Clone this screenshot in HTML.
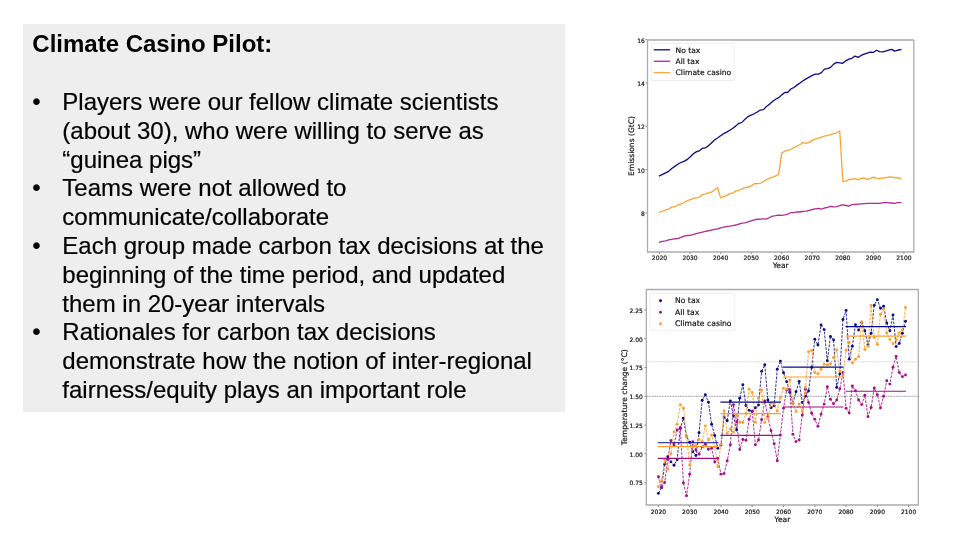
<!DOCTYPE html>
<html lang="en"><head><meta charset="utf-8"><title>Climate Casino Pilot</title>
<style>
html,body{margin:0;padding:0;background:#fff}
body{width:960px;height:540px;position:relative;overflow:hidden;font-family:"Liberation Sans",sans-serif;color:#000}
#box{position:absolute;left:23px;top:24px;width:542px;height:387.6px;background:#eeeeee}
.ln{position:absolute;white-space:nowrap;font-size:24px;line-height:28px;height:28px;-webkit-text-stroke:0.2px #000}
</style></head><body>
<div id="box"></div>
<div class="ln" style="top:30.00px;left:32.3px"><b style="-webkit-text-stroke:0">Climate Casino Pilot:</b></div>
<div class="ln" style="top:88.00px;left:32.3px">•</div>
<div class="ln" style="top:88.00px;left:62.3px">Players were our fellow climate scientists</div>
<div class="ln" style="top:117.00px;left:62.3px">(about 30), who were willing to serve as</div>
<div class="ln" style="top:146.00px;left:62.3px">“guinea pigs”</div>
<div class="ln" style="top:174.00px;left:32.3px">•</div>
<div class="ln" style="top:174.00px;left:62.3px">Teams were not allowed to</div>
<div class="ln" style="top:203.00px;left:62.3px">communicate/collaborate</div>
<div class="ln" style="top:232.00px;left:32.3px">•</div>
<div class="ln" style="top:232.00px;left:62.3px">Each group made carbon tax decisions at the</div>
<div class="ln" style="top:261.00px;left:62.3px">beginning of the time period, and updated</div>
<div class="ln" style="top:290.00px;left:62.3px">them in 20-year intervals</div>
<div class="ln" style="top:318.00px;left:32.3px">•</div>
<div class="ln" style="top:318.00px;left:62.3px">Rationales for carbon tax decisions</div>
<div class="ln" style="top:347.00px;left:62.3px">demonstrate how the notion of inter-regional</div>
<div class="ln" style="top:376.00px;left:62.3px">fairness/equity plays an important role</div>
<svg width="960" height="540" viewBox="0 0 960 540" style="position:absolute;left:0;top:0" font-family="DejaVu Sans, Liberation Sans, sans-serif" fill="#111" stroke="#111" stroke-width="0.18" stroke-linejoin="round">
<rect x="647.50" y="40.00" width="266.30" height="212.00" fill="#fff" stroke="#000" stroke-width="1.30" stroke-opacity="0.33"/>
<line x1="659.50" y1="252.50" x2="659.50" y2="254.00" stroke="#000" stroke-width="1.00" stroke-opacity="0.45"/>
<text x="659.50" y="260.00" font-size="6.00" text-anchor="middle">2020</text>
<line x1="690.05" y1="252.50" x2="690.05" y2="254.00" stroke="#000" stroke-width="1.00" stroke-opacity="0.45"/>
<text x="690.05" y="260.00" font-size="6.00" text-anchor="middle">2030</text>
<line x1="720.60" y1="252.50" x2="720.60" y2="254.00" stroke="#000" stroke-width="1.00" stroke-opacity="0.45"/>
<text x="720.60" y="260.00" font-size="6.00" text-anchor="middle">2040</text>
<line x1="751.15" y1="252.50" x2="751.15" y2="254.00" stroke="#000" stroke-width="1.00" stroke-opacity="0.45"/>
<text x="751.15" y="260.00" font-size="6.00" text-anchor="middle">2050</text>
<line x1="781.70" y1="252.50" x2="781.70" y2="254.00" stroke="#000" stroke-width="1.00" stroke-opacity="0.45"/>
<text x="781.70" y="260.00" font-size="6.00" text-anchor="middle">2060</text>
<line x1="812.25" y1="252.50" x2="812.25" y2="254.00" stroke="#000" stroke-width="1.00" stroke-opacity="0.45"/>
<text x="812.25" y="260.00" font-size="6.00" text-anchor="middle">2070</text>
<line x1="842.80" y1="252.50" x2="842.80" y2="254.00" stroke="#000" stroke-width="1.00" stroke-opacity="0.45"/>
<text x="842.80" y="260.00" font-size="6.00" text-anchor="middle">2080</text>
<line x1="873.35" y1="252.50" x2="873.35" y2="254.00" stroke="#000" stroke-width="1.00" stroke-opacity="0.45"/>
<text x="873.35" y="260.00" font-size="6.00" text-anchor="middle">2090</text>
<line x1="903.90" y1="252.50" x2="903.90" y2="254.00" stroke="#000" stroke-width="1.00" stroke-opacity="0.45"/>
<text x="903.90" y="260.00" font-size="6.00" text-anchor="middle">2100</text>
<line x1="645.50" y1="212.98" x2="647.00" y2="212.98" stroke="#000" stroke-width="1.00" stroke-opacity="0.45"/>
<text x="644.90" y="215.87" font-size="6.00" text-anchor="end">8</text>
<line x1="645.50" y1="169.64" x2="647.00" y2="169.64" stroke="#000" stroke-width="1.00" stroke-opacity="0.45"/>
<text x="644.90" y="172.53" font-size="6.00" text-anchor="end">10</text>
<line x1="645.50" y1="126.30" x2="647.00" y2="126.30" stroke="#000" stroke-width="1.00" stroke-opacity="0.45"/>
<text x="644.90" y="129.19" font-size="6.00" text-anchor="end">12</text>
<line x1="645.50" y1="82.96" x2="647.00" y2="82.96" stroke="#000" stroke-width="1.00" stroke-opacity="0.45"/>
<text x="644.90" y="85.85" font-size="6.00" text-anchor="end">14</text>
<line x1="645.50" y1="39.62" x2="647.00" y2="39.62" stroke="#000" stroke-width="1.00" stroke-opacity="0.45"/>
<text x="644.90" y="42.51" font-size="6.00" text-anchor="end">16</text>
<text x="780.65" y="268.00" font-size="7.55" text-anchor="middle">Year</text>
<text transform="translate(633.90 146.00) rotate(-90)" font-size="7.55" text-anchor="middle">Emissions (GtC)</text>
<path d="M659.50 175.82 L662.55 174.41 L665.61 172.89 L668.66 171.37 L671.72 168.56 L674.77 166.39 L677.83 164.22 L680.88 162.49 L683.94 161.41 L687.00 159.67 L690.05 157.07 L693.11 154.04 L696.16 151.87 L699.22 150.79 L702.27 148.40 L705.33 147.97 L708.38 145.80 L711.43 142.99 L714.49 139.95 L717.54 138.00 L720.60 135.83 L723.65 133.67 L726.71 132.15 L729.76 130.20 L732.82 128.25 L735.88 125.87 L738.93 123.27 L741.99 122.40 L745.04 119.15 L748.10 116.55 L751.15 115.03 L754.21 113.73 L757.26 112.00 L760.32 110.05 L763.37 109.61 L766.42 106.58 L769.48 104.20 L772.53 101.60 L775.59 99.21 L778.64 97.70 L781.70 94.88 L784.75 92.49 L787.81 92.28 L790.87 89.03 L793.92 87.51 L796.98 85.13 L800.03 82.96 L803.09 80.79 L806.14 78.84 L809.20 77.11 L812.25 75.38 L815.31 74.08 L818.36 74.08 L821.41 72.56 L824.47 69.09 L827.52 68.66 L830.58 67.36 L833.63 64.11 L836.69 62.37 L839.75 62.81 L842.80 63.24 L845.86 60.86 L848.91 59.12 L851.97 58.26 L855.02 56.09 L858.08 57.39 L861.13 55.44 L864.18 54.14 L867.24 53.06 L870.30 52.19 L873.35 52.41 L876.40 50.24 L879.46 51.54 L882.51 51.97 L885.57 51.11 L888.62 50.24 L891.68 49.37 L894.74 51.11 L897.79 50.24 L900.85 49.59" fill="none" stroke="#0b0b85" stroke-width="1.30" stroke-linejoin="round" stroke-linecap="square"/>
<path d="M659.50 242.15 L662.55 241.37 L665.61 240.83 L668.66 239.96 L671.72 239.31 L674.77 238.77 L677.83 238.66 L680.88 237.47 L683.94 236.17 L687.00 235.52 L690.05 235.30 L693.11 234.65 L696.16 233.67 L699.22 232.81 L702.27 232.16 L705.33 231.29 L708.38 230.75 L711.43 230.10 L714.49 229.45 L717.54 228.80 L720.60 227.93 L723.65 227.17 L726.71 226.52 L729.76 226.20 L732.82 225.55 L735.88 225.01 L738.93 224.03 L741.99 223.16 L745.04 222.84 L748.10 221.86 L751.15 220.78 L754.21 219.81 L757.26 219.26 L760.32 219.05 L763.37 218.83 L766.42 219.05 L769.48 217.53 L772.53 216.12 L775.59 215.69 L778.64 215.15 L781.70 215.36 L784.75 214.93 L787.81 214.17 L790.87 212.55 L793.92 212.55 L796.98 211.90 L800.03 212.00 L803.09 211.35 L806.14 211.03 L809.20 210.49 L812.25 209.51 L815.31 208.97 L818.36 208.43 L821.41 209.19 L824.47 208.00 L827.52 207.35 L830.58 206.48 L833.63 206.80 L836.69 206.70 L839.75 205.50 L842.80 204.96 L845.86 205.50 L848.91 206.15 L851.97 204.53 L855.02 204.31 L858.08 204.10 L861.13 203.88 L864.18 203.66 L867.24 203.45 L870.30 203.34 L873.35 203.34 L876.40 203.34 L879.46 203.34 L882.51 202.80 L885.57 202.47 L888.62 202.80 L891.68 203.01 L894.74 203.45 L897.79 202.69 L900.85 202.69" fill="none" stroke="#ae2a94" stroke-width="1.30" stroke-linejoin="round" stroke-linecap="square"/>
<path d="M659.50 212.11 L662.55 211.14 L665.61 209.95 L668.66 209.08 L671.72 207.13 L674.77 206.70 L677.83 204.96 L680.88 203.88 L683.94 202.80 L687.00 200.84 L690.05 199.54 L693.11 198.68 L696.16 197.81 L699.22 197.16 L702.27 194.56 L705.33 193.91 L708.38 192.83 L711.43 192.18 L714.49 190.01 L717.54 187.41 L720.60 197.81 L723.65 196.73 L726.71 195.32 L729.76 193.69 L732.82 192.83 L735.88 191.09 L738.93 190.23 L741.99 188.82 L745.04 187.41 L748.10 187.41 L751.15 185.89 L754.21 183.73 L757.26 183.73 L760.32 183.29 L763.37 181.56 L766.42 179.61 L769.48 178.31 L772.53 177.22 L775.59 175.82 L778.64 174.41 L781.70 153.17 L784.75 151.22 L787.81 150.46 L790.87 149.27 L793.92 147.64 L796.98 146.02 L800.03 144.50 L803.09 142.66 L806.14 143.42 L809.20 142.34 L812.25 140.39 L815.31 139.09 L818.36 138.22 L821.41 137.13 L824.47 136.05 L827.52 135.29 L830.58 134.53 L833.63 133.67 L836.69 132.80 L839.75 131.07 L842.80 181.34 L845.86 181.13 L848.91 179.61 L851.97 179.17 L855.02 178.74 L858.08 179.61 L861.13 178.31 L864.18 177.98 L867.24 179.39 L870.30 178.31 L873.35 177.22 L876.40 178.31 L879.46 178.63 L882.51 177.98 L885.57 177.87 L888.62 176.79 L891.68 177.01 L894.74 177.87 L897.79 177.66 L900.85 179.17" fill="none" stroke="#fda335" stroke-width="1.30" stroke-linejoin="round" stroke-linecap="square"/>
<rect x="651.3" y="43.3" width="82.9" height="37.3" rx="1.2" fill="#fff" fill-opacity="0.8" stroke="#ccc" stroke-opacity="0.8" stroke-width="0.45"/>
<line x1="653.7" y1="49.80" x2="670" y2="49.80" stroke="#0b0b85" stroke-width="1.30"/>
<text x="675.6" y="52.70" font-size="7.55">No tax</text>
<line x1="653.7" y1="61.25" x2="670" y2="61.25" stroke="#ae2a94" stroke-width="1.30"/>
<text x="675.6" y="64.00" font-size="7.55">All tax</text>
<line x1="653.7" y1="72.70" x2="670" y2="72.70" stroke="#fda335" stroke-width="1.30"/>
<text x="675.6" y="75.40" font-size="7.55">Climate casino</text>
<rect x="646.30" y="289.50" width="272.00" height="215.50" fill="#fff" stroke="#000" stroke-width="1.30" stroke-opacity="0.33"/>
<line x1="658.40" y1="505.50" x2="658.40" y2="507.00" stroke="#000" stroke-width="1.00" stroke-opacity="0.45"/>
<text x="658.40" y="513.80" font-size="5.95" text-anchor="middle">2020</text>
<line x1="689.68" y1="505.50" x2="689.68" y2="507.00" stroke="#000" stroke-width="1.00" stroke-opacity="0.45"/>
<text x="689.68" y="513.80" font-size="5.95" text-anchor="middle">2030</text>
<line x1="720.96" y1="505.50" x2="720.96" y2="507.00" stroke="#000" stroke-width="1.00" stroke-opacity="0.45"/>
<text x="720.96" y="513.80" font-size="5.95" text-anchor="middle">2040</text>
<line x1="752.24" y1="505.50" x2="752.24" y2="507.00" stroke="#000" stroke-width="1.00" stroke-opacity="0.45"/>
<text x="752.24" y="513.80" font-size="5.95" text-anchor="middle">2050</text>
<line x1="783.52" y1="505.50" x2="783.52" y2="507.00" stroke="#000" stroke-width="1.00" stroke-opacity="0.45"/>
<text x="783.52" y="513.80" font-size="5.95" text-anchor="middle">2060</text>
<line x1="814.80" y1="505.50" x2="814.80" y2="507.00" stroke="#000" stroke-width="1.00" stroke-opacity="0.45"/>
<text x="814.80" y="513.80" font-size="5.95" text-anchor="middle">2070</text>
<line x1="846.08" y1="505.50" x2="846.08" y2="507.00" stroke="#000" stroke-width="1.00" stroke-opacity="0.45"/>
<text x="846.08" y="513.80" font-size="5.95" text-anchor="middle">2080</text>
<line x1="877.36" y1="505.50" x2="877.36" y2="507.00" stroke="#000" stroke-width="1.00" stroke-opacity="0.45"/>
<text x="877.36" y="513.80" font-size="5.95" text-anchor="middle">2090</text>
<line x1="908.64" y1="505.50" x2="908.64" y2="507.00" stroke="#000" stroke-width="1.00" stroke-opacity="0.45"/>
<text x="908.64" y="513.80" font-size="5.95" text-anchor="middle">2100</text>
<line x1="644.30" y1="482.55" x2="645.80" y2="482.55" stroke="#000" stroke-width="1.00" stroke-opacity="0.45"/>
<text x="642.80" y="485.42" font-size="5.95" text-anchor="end">0.75</text>
<line x1="644.30" y1="453.80" x2="645.80" y2="453.80" stroke="#000" stroke-width="1.00" stroke-opacity="0.45"/>
<text x="642.80" y="456.67" font-size="5.95" text-anchor="end">1.00</text>
<line x1="644.30" y1="425.05" x2="645.80" y2="425.05" stroke="#000" stroke-width="1.00" stroke-opacity="0.45"/>
<text x="642.80" y="427.92" font-size="5.95" text-anchor="end">1.25</text>
<line x1="644.30" y1="396.30" x2="645.80" y2="396.30" stroke="#000" stroke-width="1.00" stroke-opacity="0.45"/>
<text x="642.80" y="399.17" font-size="5.95" text-anchor="end">1.50</text>
<line x1="644.30" y1="367.55" x2="645.80" y2="367.55" stroke="#000" stroke-width="1.00" stroke-opacity="0.45"/>
<text x="642.80" y="370.42" font-size="5.95" text-anchor="end">1.75</text>
<line x1="644.30" y1="338.80" x2="645.80" y2="338.80" stroke="#000" stroke-width="1.00" stroke-opacity="0.45"/>
<text x="642.80" y="341.67" font-size="5.95" text-anchor="end">2.00</text>
<line x1="644.30" y1="310.05" x2="645.80" y2="310.05" stroke="#000" stroke-width="1.00" stroke-opacity="0.45"/>
<text x="642.80" y="312.92" font-size="5.95" text-anchor="end">2.25</text>
<text x="782.30" y="522.00" font-size="7.60" text-anchor="middle">Year</text>
<text transform="translate(626.70 397.25) rotate(-90)" font-size="7.60" text-anchor="middle">Temperature change (°C)</text>
<line x1="646.30" y1="396.30" x2="918.30" y2="396.30" stroke="#666" stroke-width="0.6" stroke-dasharray="1.8 0.8"/>
<line x1="646.30" y1="361.80" x2="918.30" y2="361.80" stroke="#bbb" stroke-width="0.6" stroke-dasharray="1.8 0.8"/>
<path d="M658.40 493.36 L661.53 487.50 L664.66 464.15 L667.78 456.68 L670.91 461.85 L674.04 465.30 L677.17 459.55 L680.30 428.50 L683.42 418.26 L686.55 436.55 L689.68 442.30 L692.81 451.50 L695.94 455.53 L699.06 432.75 L702.19 400.32 L705.32 394.69 L708.45 402.17 L711.58 424.13 L714.70 435.51 L717.83 448.28 L720.96 444.94 L724.09 417.00 L727.22 420.80 L730.34 400.90 L733.47 415.85 L736.60 430.00 L739.73 398.25 L742.86 384.80 L745.98 405.50 L749.11 410.33 L752.24 411.25 L755.37 407.80 L758.50 404.93 L761.62 371.35 L764.75 364.68 L767.88 399.98 L771.01 407.80 L774.14 405.85 L777.26 369.16 L780.39 361.11 L783.52 372.73 L786.65 381.69 L789.78 392.28 L792.90 403.20 L796.03 391.70 L799.16 381.35 L802.29 402.51 L805.42 396.30 L808.54 391.01 L811.67 367.55 L814.80 339.14 L817.93 345.01 L821.06 325.00 L824.18 329.60 L827.31 360.76 L830.44 336.50 L833.57 339.95 L836.70 387.45 L839.82 373.88 L842.95 319.48 L846.08 310.40 L849.21 359.16 L852.34 346.27 L855.46 324.65 L858.59 329.95 L861.72 322.47 L864.85 330.75 L867.98 345.01 L871.10 333.28 L874.23 305.34 L877.36 299.70 L880.49 308.32 L883.62 306.14 L886.74 322.93 L889.87 330.75 L893.00 315.00 L896.13 346.62 L899.26 343.40 L902.38 333.28 L905.51 321.32" fill="none" stroke="#0b0b85" stroke-width="0.85" stroke-dasharray="2.7 1.2" stroke-linejoin="round"/>
<g stroke="none" fill="#0b0b85"><circle cx="658.40" cy="493.36" r="1.45"/><circle cx="661.53" cy="487.50" r="1.45"/><circle cx="664.66" cy="464.15" r="1.45"/><circle cx="667.78" cy="456.68" r="1.45"/><circle cx="670.91" cy="461.85" r="1.45"/><circle cx="674.04" cy="465.30" r="1.45"/><circle cx="677.17" cy="459.55" r="1.45"/><circle cx="680.30" cy="428.50" r="1.45"/><circle cx="683.42" cy="418.26" r="1.45"/><circle cx="686.55" cy="436.55" r="1.45"/><circle cx="689.68" cy="442.30" r="1.45"/><circle cx="692.81" cy="451.50" r="1.45"/><circle cx="695.94" cy="455.53" r="1.45"/><circle cx="699.06" cy="432.75" r="1.45"/><circle cx="702.19" cy="400.32" r="1.45"/><circle cx="705.32" cy="394.69" r="1.45"/><circle cx="708.45" cy="402.17" r="1.45"/><circle cx="711.58" cy="424.13" r="1.45"/><circle cx="714.70" cy="435.51" r="1.45"/><circle cx="717.83" cy="448.28" r="1.45"/><circle cx="720.96" cy="444.94" r="1.45"/><circle cx="724.09" cy="417.00" r="1.45"/><circle cx="727.22" cy="420.80" r="1.45"/><circle cx="730.34" cy="400.90" r="1.45"/><circle cx="733.47" cy="415.85" r="1.45"/><circle cx="736.60" cy="430.00" r="1.45"/><circle cx="739.73" cy="398.25" r="1.45"/><circle cx="742.86" cy="384.80" r="1.45"/><circle cx="745.98" cy="405.50" r="1.45"/><circle cx="749.11" cy="410.33" r="1.45"/><circle cx="752.24" cy="411.25" r="1.45"/><circle cx="755.37" cy="407.80" r="1.45"/><circle cx="758.50" cy="404.93" r="1.45"/><circle cx="761.62" cy="371.35" r="1.45"/><circle cx="764.75" cy="364.68" r="1.45"/><circle cx="767.88" cy="399.98" r="1.45"/><circle cx="771.01" cy="407.80" r="1.45"/><circle cx="774.14" cy="405.85" r="1.45"/><circle cx="777.26" cy="369.16" r="1.45"/><circle cx="780.39" cy="361.11" r="1.45"/><circle cx="783.52" cy="372.73" r="1.45"/><circle cx="786.65" cy="381.69" r="1.45"/><circle cx="789.78" cy="392.28" r="1.45"/><circle cx="792.90" cy="403.20" r="1.45"/><circle cx="796.03" cy="391.70" r="1.45"/><circle cx="799.16" cy="381.35" r="1.45"/><circle cx="802.29" cy="402.51" r="1.45"/><circle cx="805.42" cy="396.30" r="1.45"/><circle cx="808.54" cy="391.01" r="1.45"/><circle cx="811.67" cy="367.55" r="1.45"/><circle cx="814.80" cy="339.14" r="1.45"/><circle cx="817.93" cy="345.01" r="1.45"/><circle cx="821.06" cy="325.00" r="1.45"/><circle cx="824.18" cy="329.60" r="1.45"/><circle cx="827.31" cy="360.76" r="1.45"/><circle cx="830.44" cy="336.50" r="1.45"/><circle cx="833.57" cy="339.95" r="1.45"/><circle cx="836.70" cy="387.45" r="1.45"/><circle cx="839.82" cy="373.88" r="1.45"/><circle cx="842.95" cy="319.48" r="1.45"/><circle cx="846.08" cy="310.40" r="1.45"/><circle cx="849.21" cy="359.16" r="1.45"/><circle cx="852.34" cy="346.27" r="1.45"/><circle cx="855.46" cy="324.65" r="1.45"/><circle cx="858.59" cy="329.95" r="1.45"/><circle cx="861.72" cy="322.47" r="1.45"/><circle cx="864.85" cy="330.75" r="1.45"/><circle cx="867.98" cy="345.01" r="1.45"/><circle cx="871.10" cy="333.28" r="1.45"/><circle cx="874.23" cy="305.34" r="1.45"/><circle cx="877.36" cy="299.70" r="1.45"/><circle cx="880.49" cy="308.32" r="1.45"/><circle cx="883.62" cy="306.14" r="1.45"/><circle cx="886.74" cy="322.93" r="1.45"/><circle cx="889.87" cy="330.75" r="1.45"/><circle cx="893.00" cy="315.00" r="1.45"/><circle cx="896.13" cy="346.62" r="1.45"/><circle cx="899.26" cy="343.40" r="1.45"/><circle cx="902.38" cy="333.28" r="1.45"/><circle cx="905.51" cy="321.32" r="1.45"/></g>
<path d="M658.40 476.80 L661.53 487.73 L664.66 482.55 L667.78 459.55 L670.91 440.57 L674.04 444.94 L677.17 430.00 L680.30 427.46 L683.42 483.01 L686.55 495.78 L689.68 474.16 L692.81 441.73 L695.94 450.00 L699.06 454.15 L702.19 446.90 L705.32 444.14 L708.45 449.20 L711.58 448.28 L714.70 462.08 L717.83 458.40 L720.96 474.16 L724.09 473.58 L727.22 460.81 L730.34 444.72 L733.47 404.81 L736.60 421.60 L739.73 449.55 L742.86 439.43 L745.98 440.35 L749.11 419.30 L752.24 411.25 L755.37 444.72 L758.50 440.00 L761.62 419.65 L764.75 400.90 L767.88 416.66 L771.01 430.80 L774.14 443.68 L777.26 460.81 L780.39 434.94 L783.52 408.14 L786.65 389.98 L789.78 389.63 L792.90 434.13 L796.03 441.61 L799.16 440.00 L802.29 414.93 L805.42 389.17 L808.54 402.51 L811.67 413.32 L814.80 419.30 L817.93 426.31 L821.06 414.12 L824.18 404.12 L827.31 386.75 L830.44 399.18 L833.57 403.66 L836.70 399.98 L839.82 388.83 L842.95 372.50 L846.08 408.26 L849.21 413.09 L852.34 385.95 L855.46 390.78 L858.59 399.98 L861.72 404.58 L864.85 395.27 L867.98 416.66 L871.10 407.45 L874.23 388.02 L877.36 394.69 L880.49 407.92 L883.62 396.30 L886.74 380.77 L889.87 384.11 L893.00 367.32 L896.13 356.39 L899.26 372.50 L902.38 376.63 L905.51 375.02" fill="none" stroke="#a40c88" stroke-width="0.85" stroke-dasharray="2.7 1.2" stroke-linejoin="round"/>
<g stroke="none" fill="#a40c88"><circle cx="658.40" cy="476.80" r="1.45"/><circle cx="661.53" cy="487.73" r="1.45"/><circle cx="664.66" cy="482.55" r="1.45"/><circle cx="667.78" cy="459.55" r="1.45"/><circle cx="670.91" cy="440.57" r="1.45"/><circle cx="674.04" cy="444.94" r="1.45"/><circle cx="677.17" cy="430.00" r="1.45"/><circle cx="680.30" cy="427.46" r="1.45"/><circle cx="683.42" cy="483.01" r="1.45"/><circle cx="686.55" cy="495.78" r="1.45"/><circle cx="689.68" cy="474.16" r="1.45"/><circle cx="692.81" cy="441.73" r="1.45"/><circle cx="695.94" cy="450.00" r="1.45"/><circle cx="699.06" cy="454.15" r="1.45"/><circle cx="702.19" cy="446.90" r="1.45"/><circle cx="705.32" cy="444.14" r="1.45"/><circle cx="708.45" cy="449.20" r="1.45"/><circle cx="711.58" cy="448.28" r="1.45"/><circle cx="714.70" cy="462.08" r="1.45"/><circle cx="717.83" cy="458.40" r="1.45"/><circle cx="720.96" cy="474.16" r="1.45"/><circle cx="724.09" cy="473.58" r="1.45"/><circle cx="727.22" cy="460.81" r="1.45"/><circle cx="730.34" cy="444.72" r="1.45"/><circle cx="733.47" cy="404.81" r="1.45"/><circle cx="736.60" cy="421.60" r="1.45"/><circle cx="739.73" cy="449.55" r="1.45"/><circle cx="742.86" cy="439.43" r="1.45"/><circle cx="745.98" cy="440.35" r="1.45"/><circle cx="749.11" cy="419.30" r="1.45"/><circle cx="752.24" cy="411.25" r="1.45"/><circle cx="755.37" cy="444.72" r="1.45"/><circle cx="758.50" cy="440.00" r="1.45"/><circle cx="761.62" cy="419.65" r="1.45"/><circle cx="764.75" cy="400.90" r="1.45"/><circle cx="767.88" cy="416.66" r="1.45"/><circle cx="771.01" cy="430.80" r="1.45"/><circle cx="774.14" cy="443.68" r="1.45"/><circle cx="777.26" cy="460.81" r="1.45"/><circle cx="780.39" cy="434.94" r="1.45"/><circle cx="783.52" cy="408.14" r="1.45"/><circle cx="786.65" cy="389.98" r="1.45"/><circle cx="789.78" cy="389.63" r="1.45"/><circle cx="792.90" cy="434.13" r="1.45"/><circle cx="796.03" cy="441.61" r="1.45"/><circle cx="799.16" cy="440.00" r="1.45"/><circle cx="802.29" cy="414.93" r="1.45"/><circle cx="805.42" cy="389.17" r="1.45"/><circle cx="808.54" cy="402.51" r="1.45"/><circle cx="811.67" cy="413.32" r="1.45"/><circle cx="814.80" cy="419.30" r="1.45"/><circle cx="817.93" cy="426.31" r="1.45"/><circle cx="821.06" cy="414.12" r="1.45"/><circle cx="824.18" cy="404.12" r="1.45"/><circle cx="827.31" cy="386.75" r="1.45"/><circle cx="830.44" cy="399.18" r="1.45"/><circle cx="833.57" cy="403.66" r="1.45"/><circle cx="836.70" cy="399.98" r="1.45"/><circle cx="839.82" cy="388.83" r="1.45"/><circle cx="842.95" cy="372.50" r="1.45"/><circle cx="846.08" cy="408.26" r="1.45"/><circle cx="849.21" cy="413.09" r="1.45"/><circle cx="852.34" cy="385.95" r="1.45"/><circle cx="855.46" cy="390.78" r="1.45"/><circle cx="858.59" cy="399.98" r="1.45"/><circle cx="861.72" cy="404.58" r="1.45"/><circle cx="864.85" cy="395.27" r="1.45"/><circle cx="867.98" cy="416.66" r="1.45"/><circle cx="871.10" cy="407.45" r="1.45"/><circle cx="874.23" cy="388.02" r="1.45"/><circle cx="877.36" cy="394.69" r="1.45"/><circle cx="880.49" cy="407.92" r="1.45"/><circle cx="883.62" cy="396.30" r="1.45"/><circle cx="886.74" cy="380.77" r="1.45"/><circle cx="889.87" cy="384.11" r="1.45"/><circle cx="893.00" cy="367.32" r="1.45"/><circle cx="896.13" cy="356.39" r="1.45"/><circle cx="899.26" cy="372.50" r="1.45"/><circle cx="902.38" cy="376.63" r="1.45"/><circle cx="905.51" cy="375.02" r="1.45"/></g>
<path d="M658.40 486.69 L661.53 480.82 L664.66 460.01 L667.78 469.32 L670.91 453.80 L674.04 431.95 L677.17 424.13 L680.30 404.58 L683.42 408.26 L686.55 436.55 L689.68 465.30 L692.81 446.90 L695.94 445.75 L699.06 439.08 L702.19 441.61 L705.32 425.86 L708.45 440.00 L711.58 434.94 L714.70 446.90 L717.83 466.45 L720.96 444.14 L724.09 410.79 L727.22 433.33 L730.34 428.96 L733.47 431.95 L736.60 414.70 L739.73 422.29 L742.86 422.52 L745.98 413.55 L749.11 389.17 L752.24 392.50 L755.37 422.29 L758.50 398.25 L761.62 389.98 L764.75 422.52 L767.88 418.15 L771.01 403.20 L774.14 404.12 L777.26 411.02 L780.39 397.45 L783.52 388.25 L786.65 389.17 L789.78 379.97 L792.90 403.20 L796.03 411.60 L799.16 404.12 L802.29 411.60 L805.42 387.10 L808.54 351.68 L811.67 350.42 L814.80 372.50 L817.93 373.76 L821.06 369.16 L824.18 364.10 L827.31 365.02 L830.44 363.64 L833.57 357.43 L836.70 349.96 L839.82 371.00 L842.95 375.83 L846.08 350.30 L849.21 342.48 L852.34 362.95 L855.46 359.16 L858.59 356.62 L861.72 321.67 L864.85 349.61 L867.98 346.27 L871.10 305.34 L874.23 337.42 L877.36 344.55 L880.49 314.19 L883.62 309.13 L886.74 333.05 L889.87 339.61 L893.00 343.63 L896.13 339.95 L899.26 333.05 L902.38 329.95 L905.51 307.52" fill="none" stroke="#fd9e2c" stroke-width="0.85" stroke-dasharray="2.7 1.2" stroke-linejoin="round"/>
<g stroke="none" fill="#fd9e2c"><circle cx="658.40" cy="486.69" r="1.45"/><circle cx="661.53" cy="480.82" r="1.45"/><circle cx="664.66" cy="460.01" r="1.45"/><circle cx="667.78" cy="469.32" r="1.45"/><circle cx="670.91" cy="453.80" r="1.45"/><circle cx="674.04" cy="431.95" r="1.45"/><circle cx="677.17" cy="424.13" r="1.45"/><circle cx="680.30" cy="404.58" r="1.45"/><circle cx="683.42" cy="408.26" r="1.45"/><circle cx="686.55" cy="436.55" r="1.45"/><circle cx="689.68" cy="465.30" r="1.45"/><circle cx="692.81" cy="446.90" r="1.45"/><circle cx="695.94" cy="445.75" r="1.45"/><circle cx="699.06" cy="439.08" r="1.45"/><circle cx="702.19" cy="441.61" r="1.45"/><circle cx="705.32" cy="425.86" r="1.45"/><circle cx="708.45" cy="440.00" r="1.45"/><circle cx="711.58" cy="434.94" r="1.45"/><circle cx="714.70" cy="446.90" r="1.45"/><circle cx="717.83" cy="466.45" r="1.45"/><circle cx="720.96" cy="444.14" r="1.45"/><circle cx="724.09" cy="410.79" r="1.45"/><circle cx="727.22" cy="433.33" r="1.45"/><circle cx="730.34" cy="428.96" r="1.45"/><circle cx="733.47" cy="431.95" r="1.45"/><circle cx="736.60" cy="414.70" r="1.45"/><circle cx="739.73" cy="422.29" r="1.45"/><circle cx="742.86" cy="422.52" r="1.45"/><circle cx="745.98" cy="413.55" r="1.45"/><circle cx="749.11" cy="389.17" r="1.45"/><circle cx="752.24" cy="392.50" r="1.45"/><circle cx="755.37" cy="422.29" r="1.45"/><circle cx="758.50" cy="398.25" r="1.45"/><circle cx="761.62" cy="389.98" r="1.45"/><circle cx="764.75" cy="422.52" r="1.45"/><circle cx="767.88" cy="418.15" r="1.45"/><circle cx="771.01" cy="403.20" r="1.45"/><circle cx="774.14" cy="404.12" r="1.45"/><circle cx="777.26" cy="411.02" r="1.45"/><circle cx="780.39" cy="397.45" r="1.45"/><circle cx="783.52" cy="388.25" r="1.45"/><circle cx="786.65" cy="389.17" r="1.45"/><circle cx="789.78" cy="379.97" r="1.45"/><circle cx="792.90" cy="403.20" r="1.45"/><circle cx="796.03" cy="411.60" r="1.45"/><circle cx="799.16" cy="404.12" r="1.45"/><circle cx="802.29" cy="411.60" r="1.45"/><circle cx="805.42" cy="387.10" r="1.45"/><circle cx="808.54" cy="351.68" r="1.45"/><circle cx="811.67" cy="350.42" r="1.45"/><circle cx="814.80" cy="372.50" r="1.45"/><circle cx="817.93" cy="373.76" r="1.45"/><circle cx="821.06" cy="369.16" r="1.45"/><circle cx="824.18" cy="364.10" r="1.45"/><circle cx="827.31" cy="365.02" r="1.45"/><circle cx="830.44" cy="363.64" r="1.45"/><circle cx="833.57" cy="357.43" r="1.45"/><circle cx="836.70" cy="349.96" r="1.45"/><circle cx="839.82" cy="371.00" r="1.45"/><circle cx="842.95" cy="375.83" r="1.45"/><circle cx="846.08" cy="350.30" r="1.45"/><circle cx="849.21" cy="342.48" r="1.45"/><circle cx="852.34" cy="362.95" r="1.45"/><circle cx="855.46" cy="359.16" r="1.45"/><circle cx="858.59" cy="356.62" r="1.45"/><circle cx="861.72" cy="321.67" r="1.45"/><circle cx="864.85" cy="349.61" r="1.45"/><circle cx="867.98" cy="346.27" r="1.45"/><circle cx="871.10" cy="305.34" r="1.45"/><circle cx="874.23" cy="337.42" r="1.45"/><circle cx="877.36" cy="344.55" r="1.45"/><circle cx="880.49" cy="314.19" r="1.45"/><circle cx="883.62" cy="309.13" r="1.45"/><circle cx="886.74" cy="333.05" r="1.45"/><circle cx="889.87" cy="339.61" r="1.45"/><circle cx="893.00" cy="343.63" r="1.45"/><circle cx="896.13" cy="339.95" r="1.45"/><circle cx="899.26" cy="333.05" r="1.45"/><circle cx="902.38" cy="329.95" r="1.45"/><circle cx="905.51" cy="307.52" r="1.45"/></g>
<line x1="658.40" y1="442.76" x2="717.83" y2="442.76" stroke="#0b0b85" stroke-width="1.15" stroke-linecap="square"/>
<line x1="720.96" y1="402.05" x2="780.39" y2="402.05" stroke="#0b0b85" stroke-width="1.15" stroke-linecap="square"/>
<line x1="783.52" y1="367.09" x2="842.95" y2="367.09" stroke="#0b0b85" stroke-width="1.15" stroke-linecap="square"/>
<line x1="846.08" y1="326.61" x2="905.51" y2="326.61" stroke="#0b0b85" stroke-width="1.15" stroke-linecap="square"/>
<line x1="658.40" y1="458.40" x2="717.83" y2="458.40" stroke="#a40c88" stroke-width="1.15" stroke-linecap="square"/>
<line x1="720.96" y1="435.40" x2="780.39" y2="435.40" stroke="#a40c88" stroke-width="1.15" stroke-linecap="square"/>
<line x1="783.52" y1="407.00" x2="842.95" y2="407.00" stroke="#a40c88" stroke-width="1.15" stroke-linecap="square"/>
<line x1="846.08" y1="391.24" x2="905.51" y2="391.24" stroke="#a40c88" stroke-width="1.15" stroke-linecap="square"/>
<line x1="658.40" y1="446.67" x2="717.83" y2="446.67" stroke="#fd9e2c" stroke-width="1.15" stroke-linecap="square"/>
<line x1="720.96" y1="413.67" x2="780.39" y2="413.67" stroke="#fd9e2c" stroke-width="1.15" stroke-linecap="square"/>
<line x1="783.52" y1="376.98" x2="842.95" y2="376.98" stroke="#fd9e2c" stroke-width="1.15" stroke-linecap="square"/>
<line x1="846.08" y1="336.15" x2="905.51" y2="336.15" stroke="#fd9e2c" stroke-width="1.15" stroke-linecap="square"/>
<rect x="650" y="293.3" width="84.7" height="37" rx="1.2" fill="#fff" fill-opacity="0.8" stroke="#ccc" stroke-opacity="0.8" stroke-width="0.45"/>
<circle cx="660.5" cy="300.80" r="1.45" stroke="none" fill="#0b0b85"/>
<text x="675" y="303.20" font-size="7.68">No tax</text>
<circle cx="660.5" cy="312.20" r="1.45" stroke="none" fill="#a40c88"/>
<text x="675" y="314.70" font-size="7.68">All tax</text>
<circle cx="660.5" cy="323.80" r="1.45" stroke="none" fill="#fd9e2c"/>
<text x="675" y="326.30" font-size="7.68">Climate casino</text>
</svg>
</body></html>
